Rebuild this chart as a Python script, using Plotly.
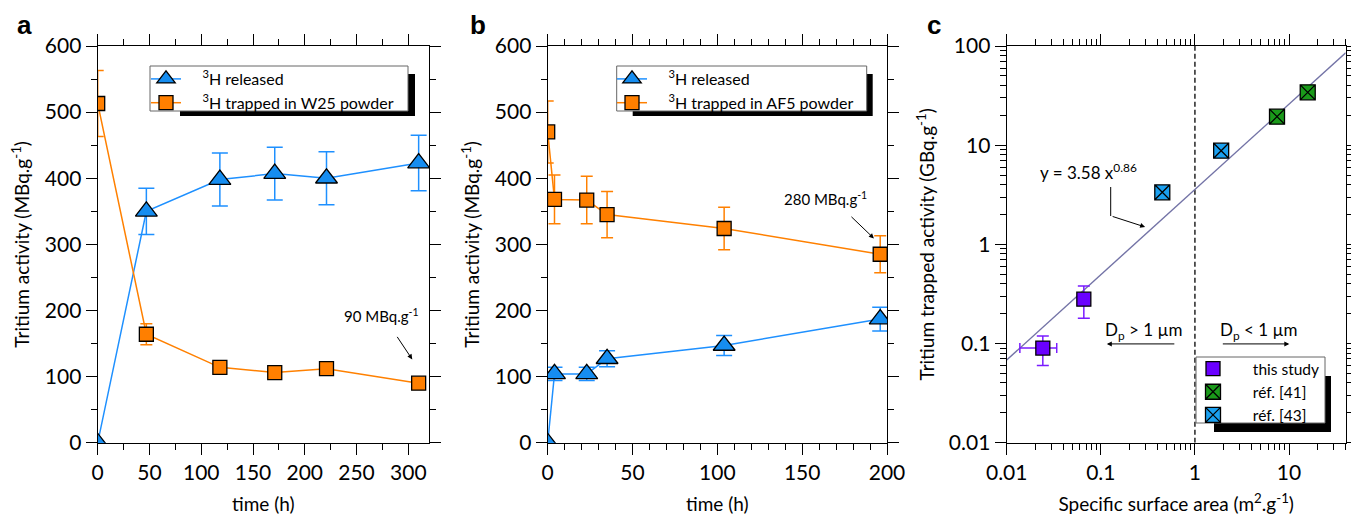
import plotly.graph_objects as go
import numpy as np

# ---------------- data ----------------
# panel a (W25 powder)
a_time_rel = [0, 47, 118, 171, 221, 310]
a_rel = [0, 350, 398, 407, 400, 423]
a_rel_err = [0, 35, 40, 40, 40, 42]
a_time_trap = [0, 47, 118, 171, 221, 310]
a_trap = [513, 164, 114, 106, 112, 90]
a_trap_err = [50, 16, 8, 8, 8, 8]

# panel b (AF5 powder)
b_time_rel = [0, 4, 23, 35, 104, 196]
b_rel = [0, 104, 104, 127, 147, 187]
b_rel_err = [0, 10, 10, 12, 15, 18]
b_time_trap = [0, 4, 23, 35, 104, 196]
b_trap = [470, 368, 367, 345, 324, 285]
b_trap_err = [47, 37, 36, 35, 32, 28]

# panel c
c_this_x = [0.0242, 0.066]
c_this_y = [0.09, 0.28]
c_this_xerr_minus = [0.0104, 0.0]
c_this_xerr_plus = [0.0098, 0.0]
c_this_yerr_minus = [0.03, 0.10]
c_this_yerr_plus = [0.029, 0.10]
c_r41_x = [7.45, 15.8]
c_r41_y = [19.4, 34.1]
c_r41_err = [2.5, 4.0]
c_r43_x = [0.45, 1.9]
c_r43_y = [3.35, 8.8]
c_r43_err = [0.45, 1.2]
fit_a, fit_b = 3.58, 0.86
fit_x = [0.01, 40]

FONT = "Lato"
W, H = 1351, 517
BLUE_L = "#1e90ff"
BLUE_F = "#168df0"
ORANGE_L = "#ff8000"
ORANGE_F = "#ff7f00"
NB = "\u00a0"


def px(x):
    return x / W


def py(y):
    return 1 - y / H


fig = go.Figure()

# ---- panel a ----
fig.add_trace(go.Scatter(
    x=a_time_rel, y=a_rel, mode="lines+markers", xaxis="x", yaxis="y",
    name=NB * 4 + "<sup>3</sup>H released", legend="legend",
    line=dict(color=BLUE_L, width=1.5),
    marker=dict(symbol="triangle-up", size=19, color=BLUE_F, line=dict(color="black", width=1.3)),
    error_y=dict(type="data", array=a_rel_err, color=BLUE_L, thickness=1.5, width=8)))
fig.add_trace(go.Scatter(
    x=a_time_trap, y=a_trap, mode="lines+markers", xaxis="x", yaxis="y",
    name=NB * 4 + "<sup>3</sup>H trapped in W25 powder", legend="legend",
    line=dict(color=ORANGE_L, width=1.5),
    marker=dict(symbol="square", size=14, color=ORANGE_F, line=dict(color="black", width=1.3)),
    error_y=dict(type="data", array=a_trap_err, color=ORANGE_L, thickness=1.5, width=6)))

# ---- panel b ----
fig.add_trace(go.Scatter(
    x=b_time_rel, y=b_rel, mode="lines+markers", xaxis="x2", yaxis="y2",
    name=NB * 4 + "<sup>3</sup>H released", legend="legend2",
    line=dict(color=BLUE_L, width=1.5),
    marker=dict(symbol="triangle-up", size=19, color=BLUE_F, line=dict(color="black", width=1.3)),
    error_y=dict(type="data", array=b_rel_err, color=BLUE_L, thickness=1.5, width=8)))
fig.add_trace(go.Scatter(
    x=b_time_trap, y=b_trap, mode="lines+markers", xaxis="x2", yaxis="y2",
    name=NB * 4 + "<sup>3</sup>H trapped in AF5 powder", legend="legend2",
    line=dict(color=ORANGE_L, width=1.5),
    marker=dict(symbol="square", size=14, color=ORANGE_F, line=dict(color="black", width=1.3)),
    error_y=dict(type="data", array=b_trap_err, color=ORANGE_L, thickness=1.5, width=6)))

# ---- panel c ----
fig.add_trace(go.Scatter(
    x=[1, 1], y=[0.01, 100], mode="lines", xaxis="x3", yaxis="y3", showlegend=False,
    line=dict(color="black", width=1.3, dash="5px,3px"), hoverinfo="skip"))
fig.add_trace(go.Scatter(
    x=fit_x, y=[fit_a * v ** fit_b for v in fit_x], mode="lines", xaxis="x3", yaxis="y3",
    showlegend=False, line=dict(color="#7373a6", width=1.4), hoverinfo="skip"))
fig.add_trace(go.Scatter(
    x=c_this_x, y=c_this_y, mode="markers", xaxis="x3", yaxis="y3",
    name=NB * 5 + "this study", legend="legend3",
    marker=dict(symbol="square", size=14, color="#6a00ff", line=dict(color="black", width=1.3)),
    error_y=dict(type="data", symmetric=False, array=c_this_yerr_plus, arrayminus=c_this_yerr_minus,
                 color="#7a1cff", thickness=1.5, width=6),
    error_x=dict(type="data", symmetric=False, array=c_this_xerr_plus, arrayminus=c_this_xerr_minus,
                 color="#7a1cff", thickness=1.5, width=5)))
fig.add_trace(go.Scatter(
    x=c_r41_x, y=c_r41_y, mode="markers", xaxis="x3", yaxis="y3",
    name=NB * 5 + "réf. [41]", legend="legend3",
    marker=dict(symbol="square-x", size=15, color="#1a9a1a", line=dict(color="black", width=1.3)),
    error_y=dict(type="data", array=c_r41_err, color="#44cc44", thickness=1.3, width=6)))
fig.add_trace(go.Scatter(
    x=c_r43_x, y=c_r43_y, mode="markers", xaxis="x3", yaxis="y3",
    name=NB * 5 + "réf. [43]", legend="legend3",
    marker=dict(symbol="square-x", size=15, color="#1aa0f0", line=dict(color="black", width=1.3)),
    error_y=dict(type="data", array=c_r43_err, color="#66c4ff", thickness=1.3, width=6)))

# ---------------- axes ----------------
common = dict(showline=True, linecolor="black", linewidth=1.3, mirror="allticks",
              ticks="outside", ticklen=11, tickwidth=1.3, tickcolor="black",
              showgrid=False, zeroline=False, automargin=False,
              tickfont=dict(family=FONT, size=21, color="black"))
ydom = [py(442.7), py(46)]
TFONT = dict(family=FONT, size=19, color="black")

fig.update_layout(
    xaxis=dict(common, domain=[px(97.7), px(429)], range=[0, 320], dtick=50, tick0=0,
               minor=dict(dtick=25, ticks="outside", ticklen=6, tickcolor="black", tickwidth=1.3),
               title=dict(text="time (h)", font=TFONT, standoff=14),
               anchor="y"),
    yaxis=dict(common, domain=ydom, range=[0, 600], dtick=100, tick0=0,
               minor=dict(dtick=50, ticks="outside", ticklen=6, tickcolor="black", tickwidth=1.3),
               title=dict(text="Tritium activity (MBq.g<sup>-1</sup>)", font=TFONT, standoff=10),
               anchor="x"),
    xaxis2=dict(common, domain=[px(547.7), px(887)], range=[0, 200], dtick=50, tick0=0,
                minor=dict(dtick=10, ticks="outside", ticklen=6, tickcolor="black", tickwidth=1.3),
                title=dict(text="time (h)", font=TFONT, standoff=14),
                anchor="y2"),
    yaxis2=dict(common, domain=ydom, range=[0, 600], dtick=100, tick0=0,
                minor=dict(dtick=50, ticks="outside", ticklen=6, tickcolor="black", tickwidth=1.3),
                title=dict(text="Tritium activity (MBq.g<sup>-1</sup>)", font=TFONT, standoff=10),
                anchor="x2"),
)

x3_major = [0.01, 0.1, 1, 10]
x3_labels = ["0.01", "0.1", "1", "10"]
y3_major = [0.01, 0.1, 1, 10, 100]
y3_labels = ["0.01", "0.1", "1", "10", "100"]
x3_minor = [m * 10.0 ** e for e in range(-2, 2) for m in range(2, 10) if m * 10.0 ** e <= 40]
y3_minor = [m * 10.0 ** e for e in range(-2, 2) for m in range(2, 10)]

fig.update_layout(
    xaxis3=dict(common, type="log", domain=[px(1006.7), px(1345.7)], range=[-2, np.log10(40)],
                tickmode="array", tickvals=x3_major, ticktext=x3_labels,
                minor=dict(tickmode="array", tickvals=x3_minor, ticks="outside", ticklen=6,
                           tickcolor="black", tickwidth=1.3),
                title=dict(text="Specific surface area (m<sup>2</sup>.g<sup>-1</sup>)",
                           font=TFONT, standoff=14),
                anchor="y3"),
    yaxis3=dict(common, type="log", domain=ydom, range=[-2, 2],
                tickmode="array", tickvals=y3_major, ticktext=y3_labels,
                minor=dict(tickmode="array", tickvals=y3_minor, ticks="outside", ticklen=6,
                           tickcolor="black", tickwidth=1.3),
                title=dict(text="Tritium trapped activity (GBq.g<sup>-1</sup>)",
                           font=TFONT, standoff=9),
                anchor="x3"),
)

# ---------------- legends (boxes drawn as shapes) ----------------
shapes = []


def legend_box(x0, y0, x1, y1, sx0, sy0, sx1, sy1):
    shapes.append(dict(type="rect", xref="paper", yref="paper", layer="above",
                       x0=px(sx0), x1=px(sx1), y0=py(sy1), y1=py(sy0),
                       fillcolor="black", line=dict(width=0)))
    shapes.append(dict(type="rect", xref="paper", yref="paper", layer="above",
                       x0=px(x0), x1=px(x1), y0=py(y1), y1=py(y0),
                       fillcolor="white", line=dict(color="#666666", width=1)))


legend_box(150, 66, 408, 111, 180, 74, 415, 116)
legend_box(616.7, 66, 866.7, 111, 632.7, 74, 872.7, 116)
legend_box(1196, 357, 1325, 423, 1214, 376, 1331, 432)

# bent leader for the fit label
shapes.append(dict(type="line", xref="paper", yref="paper",
                   x0=px(1110.7), x1=px(1110.7), y0=py(187), y1=py(216),
                   line=dict(color="black", width=1)))

leg_common = dict(bgcolor="rgba(0,0,0,0)", borderwidth=0, font=dict(family=FONT, size=16, color="black"),
                  xanchor="left", yanchor="top", tracegroupgap=0, itemsizing="trace")
fig.update_layout(
    legend=dict(leg_common, x=px(146), y=py(62)),
    legend2=dict(leg_common, x=px(612), y=py(62)),
    legend3=dict(leg_common, x=px(1193), y=py(352), font=dict(family=FONT, size=15.5, color="black")),
)

# ---------------- annotations ----------------
ann = []
for lab, x, y in [("a", 24, 25), ("b", 478, 25), ("c", 934, 25)]:
    ann.append(dict(text="<b>%s</b>" % lab, xref="paper", yref="paper", x=px(x), y=py(y),
                    showarrow=False, font=dict(family="Liberation Sans", size=26, color="black"),
                    xanchor="center", yanchor="middle"))

small_font = dict(family=FONT, size=15, color="black")
txt_font = dict(family=FONT, size=17, color="black")
# panel a
ann.append(dict(text="90 MBq.g<sup>-1</sup>", xref="x", yref="y", x=274, y=193, showarrow=False, font=small_font))
ann.append(dict(text="", xref="x", yref="y", x=303.8, y=126, ax=-16, ay=-24, axref="pixel", ayref="pixel",
                showarrow=True, arrowhead=2, arrowsize=1, arrowwidth=1, arrowcolor="black"))
# panel b
ann.append(dict(text="280 MBq.g<sup>-1</sup>", xref="x2", yref="y2", x=164, y=370, showarrow=False, font=small_font))
ann.append(dict(text="", xref="x2", yref="y2", x=192.3, y=309, ax=-24, ay=-23,
                showarrow=True, arrowhead=2, arrowsize=1, arrowwidth=1, arrowcolor="black"))
# panel c
ann.append(dict(text="y = 3.58 x<sup>0.86</sup>", xref="x3", yref="y3", x=-1.135, y=0.73,
                showarrow=False, font=txt_font))
ann.append(dict(text="", xref="x3", yref="y3", x=-0.529, y=0.175, ax=-34, ay=-11,
                showarrow=True, arrowhead=2, arrowsize=1, arrowwidth=1, arrowcolor="black"))
ann.append(dict(text="D<sub>p</sub> > 1 µm", xref="x3", yref="y3", x=-0.55, y=-0.873,
                showarrow=False, font=txt_font))
ann.append(dict(text="", xref="x3", yref="y3", x=-0.936, y=-1.004, ax=69, ay=0,
                showarrow=True, arrowhead=2, arrowsize=1, arrowwidth=1, arrowcolor="black"))
ann.append(dict(text="D<sub>p</sub> < 1 µm", xref="x3", yref="y3", x=0.673, y=-0.873,
                showarrow=False, font=txt_font))
ann.append(dict(text="", xref="x3", yref="y3", x=1.003, y=-1.004, ax=-68, ay=0,
                showarrow=True, arrowhead=2, arrowsize=1, arrowwidth=1, arrowcolor="black"))

fig.update_layout(
    width=W, height=H, margin=dict(l=0, r=0, t=0, b=0, autoexpand=False),
    paper_bgcolor="white", plot_bgcolor="white",
    font=dict(family=FONT, color="black"),
    shapes=shapes, annotations=ann,
)

fig.write_html("out.html", config={"displayModeBar": False},
               post_script="document.body.style.margin='0px';")
